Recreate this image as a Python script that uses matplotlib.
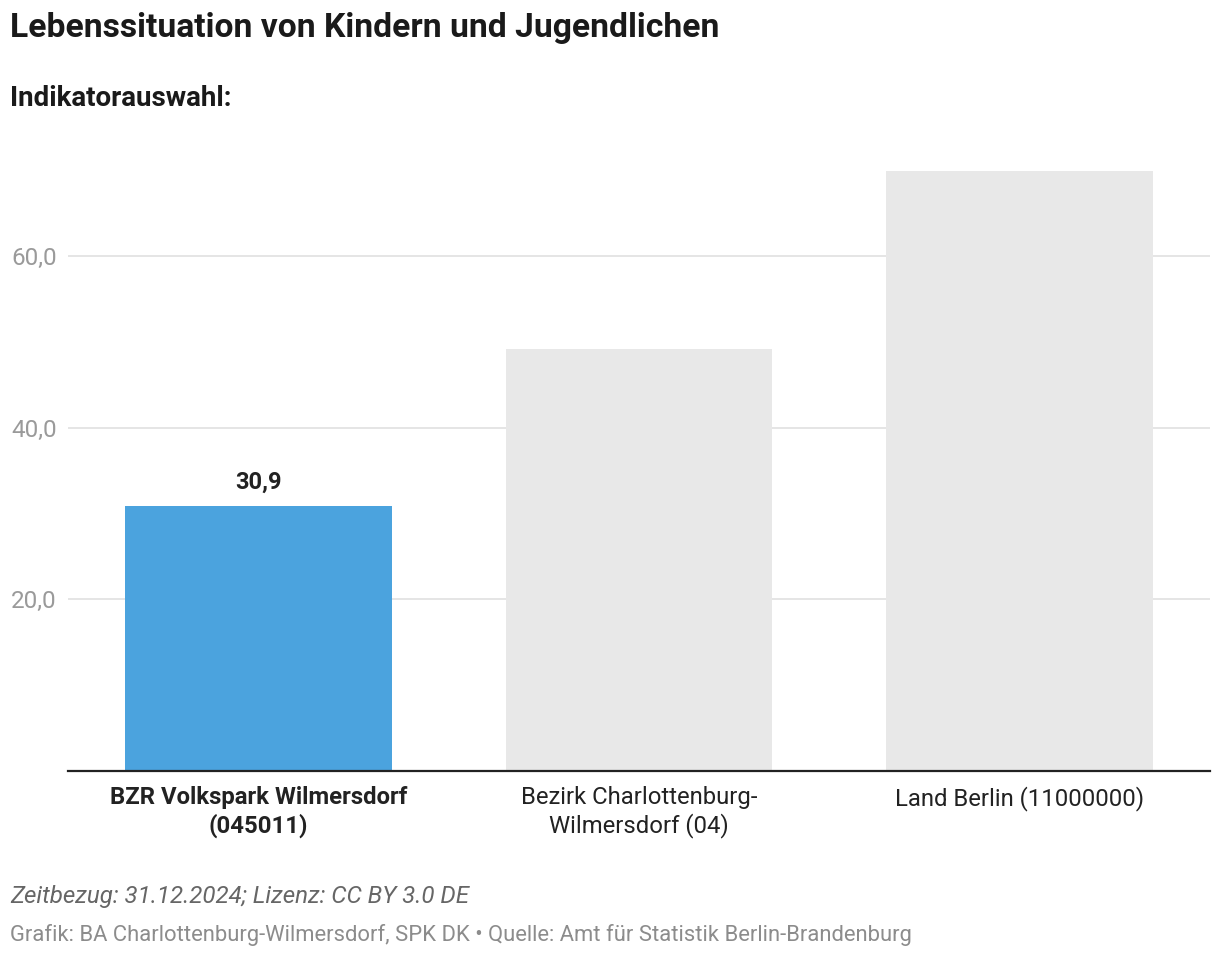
import matplotlib.pyplot as plt

plt.rcParams["font.family"] = ["Roboto", "DejaVu Sans"]

categories = [
    "BZR Volkspark Wilmersdorf\n(045011)",
    "Bezirk Charlottenburg-\nWilmersdorf (04)",
    "Land Berlin (11000000)",
]
values = [30.9, 49.2, 69.9]
highlight = [True, False, False]
y_ticks = [20, 40, 60]

title = "Lebenssituation von Kindern und Jugendlichen"
subtitle = "Indikatorauswahl:"
note = "Zeitbezug: 31.12.2024; Lizenz: CC BY 3.0 DE"
source = "Grafik: BA Charlottenburg-Wilmersdorf, SPK DK \u2022 Quelle: Amt f\u00fcr Statistik Berlin-Brandenburg"

if __name__ == "__main__":
    W, H = 1220, 958
    fig = plt.figure(figsize=(W / 100, H / 100), dpi=100)
    ax = fig.add_axes([68 / W, 1 - 771 / H, (1210 - 68) / W, (771 - 150) / H])

    x = list(range(len(values)))
    colors = ["#4ba3de" if h else "#e8e8e8" for h in highlight]
    ax.bar(x, values, width=0.7, color=colors, zorder=3)

    for xi, v, h in zip(x, values, highlight):
        if h:
            ax.annotate(f"{v:.1f}".replace(".", ","), (xi, v), xytext=(0, 9),
                        textcoords="offset points", ha="center", va="bottom",
                        fontsize=17, fontweight="bold", color="#222222")

    ax.set_xlim(-0.5, 2.5)
    ax.set_ylim(0, 72.4)
    ax.set_yticks(y_ticks)
    ax.set_yticklabels([f"{t:.1f}".replace(".", ",") for t in y_ticks])
    ax.set_xticks(x)
    ax.set_xticklabels(categories)
    for lbl, h in zip(ax.get_xticklabels(), highlight):
        lbl.set_fontweight("bold" if h else "normal")
        lbl.set_color("#222222")
        lbl.set_fontsize(17.2)
        lbl.set_linespacing(1.22)

    ax.grid(axis="y", color="#e3e3e3", linewidth=1.3, zorder=0)
    ax.tick_params(axis="y", length=0, pad=8, labelsize=17.5, labelcolor="#9a9a9a")
    ax.tick_params(axis="x", length=0, pad=11)
    for s in ["top", "right", "left"]:
        ax.spines[s].set_visible(False)
    ax.spines["bottom"].set_color("#222222")
    ax.spines["bottom"].set_linewidth(1.6)
    ax.spines["bottom"].set_zorder(4)

    fig.text(10 / W, 1 - 28 / H, title, fontsize=24.2, fontweight="bold",
             color="#1a1a1a", va="center", ha="left")
    fig.text(10 / W, 1 - 98 / H, subtitle, fontsize=20, fontweight="bold",
             color="#1a1a1a", va="center", ha="left")
    fig.text(10 / W, 1 - 897 / H, note, fontsize=17.4, style="italic",
             color="#666666", va="center", ha="left")
    fig.text(10 / W, 1 - 935 / H, source, fontsize=15.8,
             color="#8c8c8c", va="center", ha="left")

    fig.savefig("out.png", dpi=100)
